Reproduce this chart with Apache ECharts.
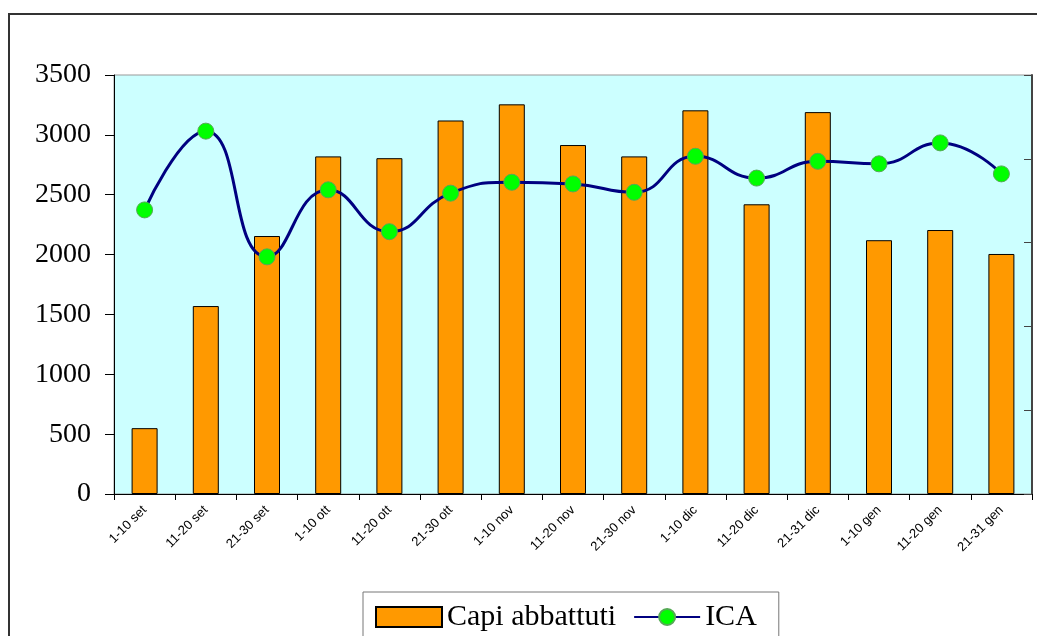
<!DOCTYPE html>
<html>
<head>
<meta charset="utf-8">
<script src="https://cdn.jsdelivr.net/npm/echarts@6/dist/echarts.min.js"></script>
<style>
  html, body { margin: 0; padding: 0; background: #fff; }
  #main { width: 1037px; height: 636px; }
</style>
</head>
<body>
<div id="main"></div>
<script>
// categorie (decadi)
var categorie = ['1-10 set', '11-20 set', '21-30 set', '1-10 ott', '11-20 ott', '21-30 ott',
  '1-10 nov', '11-20 nov', '21-30 nov', '1-10 dic', '11-20 dic', '21-31 dic',
  '1-10 gen', '11-20 gen', '21-31 gen'];
// capi abbattuti (asse sinistro)
var capiAbbattuti = [550, 1570, 2155, 2820, 2805, 3120, 3255, 2915, 2820, 3205, 2420, 3190, 2120, 2205, 2005];
// ICA (asse destro, etichette non visibili)
var ica = [3.39, 4.33, 2.83, 3.63, 3.13, 3.59, 3.72, 3.70, 3.60, 4.03, 3.77, 3.97, 3.94, 4.19, 3.82];
var tickSinistra = [0, 500, 1000, 1500, 2000, 2500, 3000, 3500];

var myChart = echarts.init(document.getElementById('main'));
var option = {
  backgroundColor: '#fff',
  animation: false,
  graphic: [{
    type: 'rect',
    z: -1,
    shape: { x: 9, y: 14, width: 1100, height: 700 },
    style: { fill: 'none', stroke: '#333', lineWidth: 2 }
  }],
  grid: {
    left: 114, top: 75, right: 5, bottom: 142,
    show: true,
    backgroundColor: '#ccffff',
    borderColor: '#999',
    borderWidth: 1
  },
  legend: {
    bottom: -20,
    left: 363,
    padding: [10, 22, 24, 12],
    borderColor: '#777',
    borderWidth: 1,
    itemWidth: 66,
    itemHeight: 20,
    itemGap: 17,
    textStyle: { fontFamily: 'Liberation Serif', fontSize: 30, color: '#000' },
    data: [{ name: 'Capi abbattuti', icon: 'rect' }, 'ICA']
  },
  xAxis: {
    type: 'category',
    data: categorie,
    boundaryGap: true,
    axisLine: { lineStyle: { color: '#000', width: 1 } },
    axisTick: { show: true, interval: 0, length: 6, lineStyle: { color: '#000', width: 1 } },
    axisLabel: {
      rotate: 45,
      interval: 0,
      margin: 14,
      fontFamily: 'Liberation Sans',
      fontSize: 13,
      color: '#000'
    }
  },
  yAxis: [{
    type: 'value',
    min: tickSinistra[0],
    max: tickSinistra[tickSinistra.length - 1],
    interval: 500,
    axisLine: { show: true, lineStyle: { color: '#000', width: 1 } },
    axisTick: { show: true, length: 9, lineStyle: { color: '#000' } },
    splitLine: { show: false },
    axisLabel: {
      margin: 23,
      fontFamily: 'Liberation Serif',
      fontSize: 28,
      color: '#000',
      formatter: function (v) { return String(v); }
    }
  }, {
    type: 'value',
    position: 'right',
    min: 0,
    max: 5,
    interval: 1,
    axisLine: { show: true, lineStyle: { color: '#444', width: 2 } },
    axisTick: { show: true, inside: true, length: 8, lineStyle: { color: '#444' } },
    splitLine: { show: false },
    axisLabel: { show: false }
  }],
  series: [{
    name: 'Capi abbattuti',
    type: 'bar',
    data: capiAbbattuti,
    barWidth: 26,
    itemStyle: { color: '#ff9900', borderColor: '#000', borderWidth: 1 }
  }, {
    name: 'ICA',
    type: 'line',
    yAxisIndex: 1,
    data: ica,
    smooth: 0.5,
    symbol: 'circle',
    symbolSize: 16,
    lineStyle: { color: '#000080', width: 3 },
    itemStyle: { color: '#00ff00', borderColor: '#55aa55', borderWidth: 1 }
  }]
};
myChart.setOption(option);
</script>
</body>
</html>
